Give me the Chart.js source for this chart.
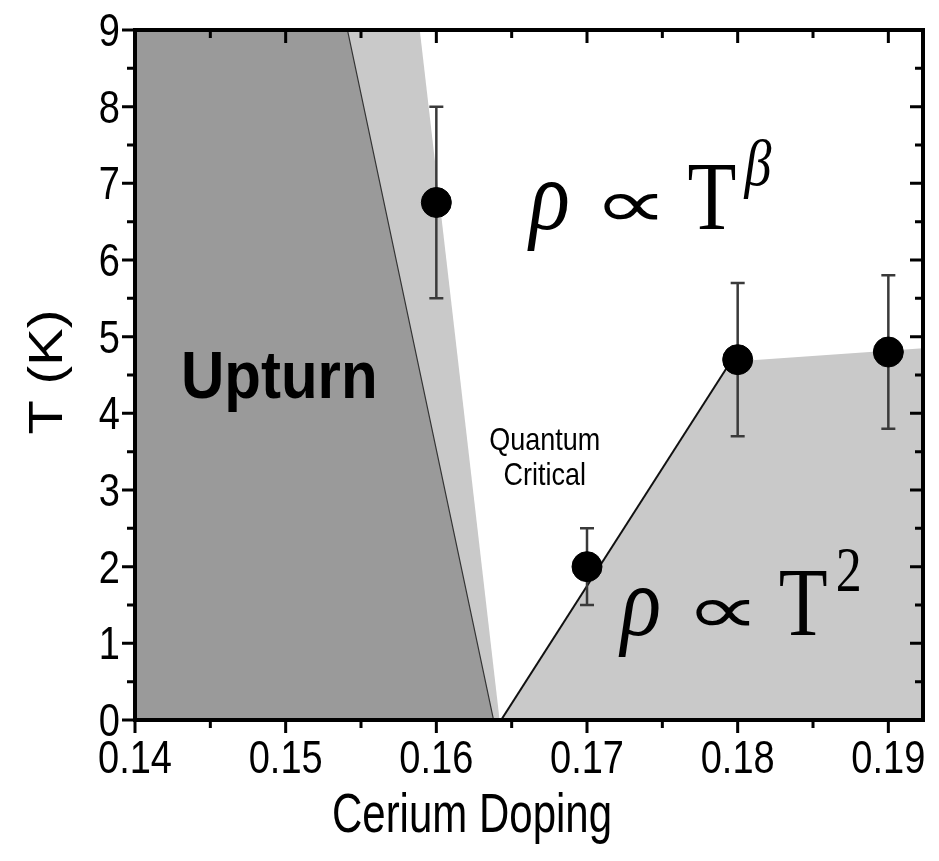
<!DOCTYPE html>
<html>
<head>
<meta charset="utf-8">
<script src="https://cdn.jsdelivr.net/npm/chart.js@4/dist/chart.umd.min.js"></script>
<style>
  html, body { margin: 0; padding: 0; background: #fff; }
  #wrap { width: 939px; height: 861px; }
</style>
</head>
<body>
<div id="wrap"><canvas id="phase" width="939" height="861"></canvas></div>
<script>
// ===== DATA =====
// cerium doping of the measured crossover points
const doping = [0.16, 0.17, 0.18, 0.19];
// crossover temperature (K) and error bar ends
const tCross = [6.75, 2.0, 4.7, 4.8];
const tLow = [5.5, 1.5, 3.7, 3.8];
const tHigh = [8.0, 2.5, 5.7, 5.8];

// region boundaries (doping, T)
const upturnX = [0.14, 0.1541, 0.1638];
const upturnT = [9, 9, 0];
const fringeX = [0.1541, 0.1589, 0.1642];
const fringeT = [9, 9, 0];
const fermiX = [0.1643, 0.1793, 0.18, 0.1923];
const fermiT = [0, 4.6, 4.68, 4.85];

const xTicks = ['0.14', '0.15', '0.16', '0.17', '0.18', '0.19'];
const yTicks = ['0', '1', '2', '3', '4', '5', '6', '7', '8', '9'];

const pts = (xs, ys) => xs.map((x, i) => ({ x: x, y: ys[i] }));

const SANS = "'Liberation Sans', Arial, sans-serif";
const SERIF = "'Liberation Serif', 'Times New Roman', serif";
const STRETCH = 1.22; // the source figure's text is drawn a bit tall

// text scaled (kx, ky) with its baseline at (x, y)
function tallText(c, s, x, y, ky, kx) {
  c.save();
  c.translate(x, y);
  c.scale(kx || 1, ky || STRETCH);
  c.fillText(s, 0, 0);
  c.restore();
}

// ticks on all four sides, frame, labels, error bars
const decor = {
  id: 'decor',
  beforeDraw(chart) {
    const c = chart.ctx;
    c.save();
    c.fillStyle = '#fff';
    c.fillRect(0, 0, chart.width, chart.height);
    c.restore();
  },
  beforeDatasetDraw(chart, args) {
    if (args.index !== 4) return;
    const c = chart.ctx, xs = chart.scales.x, ys = chart.scales.y;
    c.save();
    c.strokeStyle = '#3a3a3a';
    c.lineWidth = 2.5;
    doping.forEach((d, i) => {
      const px = xs.getPixelForValue(d);
      const lo = ys.getPixelForValue(tLow[i]);
      const hi = ys.getPixelForValue(tHigh[i]);
      c.beginPath();
      c.moveTo(px, lo); c.lineTo(px, hi);
      c.moveTo(px - 7, lo); c.lineTo(px + 7, lo);
      c.moveTo(px - 7, hi); c.lineTo(px + 7, hi);
      c.stroke();
    });
    c.restore();
  },
  afterDatasetsDraw(chart) {
    const c = chart.ctx, a = chart.chartArea;
    const xs = chart.scales.x, ys = chart.scales.y;
    c.save();
    c.strokeStyle = '#000';
    c.fillStyle = '#000';
    c.lineWidth = 3;
    c.font = '38px ' + SANS;
    c.textBaseline = 'alphabetic';
    xs.ticks.forEach((t, i) => {
      const px = xs.getPixelForValue(t.value);
      const major = i % 2 === 0;
      const len = major ? 13 : 8;
      c.beginPath();
      c.moveTo(px, a.bottom); c.lineTo(px, a.bottom + len);
      c.moveTo(px, a.top); c.lineTo(px, a.top + len);
      c.stroke();
      if (major) {
        c.textAlign = 'center';
        tallText(c, xTicks[i / 2], px, a.bottom + 53);
      }
    });
    ys.ticks.forEach((t, i) => {
      const py = ys.getPixelForValue(t.value);
      const major = i % 2 === 0;
      const len = major ? 13 : 8;
      c.beginPath();
      c.moveTo(a.left, py); c.lineTo(a.left - len, py);
      c.moveTo(a.right, py); c.lineTo(a.right - len, py);
      c.stroke();
      if (major) {
        c.textAlign = 'right';
        tallText(c, yTicks[i / 2], a.left - 15, py + 16);
      }
    });
    c.lineWidth = 4;
    c.strokeRect(a.left, a.top, a.right - a.left, a.bottom - a.top);

    // axis titles
    c.textAlign = 'center';
    c.font = '42px ' + SANS;
    tallText(c, 'Cerium Doping', (a.left + a.right) / 2 - 57, 832, 1.3);
    c.save();
    c.font = '48px ' + SANS;
    c.translate(62, 372);
    c.scale(1, 1.17);
    c.rotate(-Math.PI / 2);
    c.fillText('T (K)', 0, 0);
    c.restore();

    // region labels
    c.textAlign = 'left';
    c.font = 'bold 60px ' + SANS;
    tallText(c, 'Upturn', xs.getPixelForValue(0.14305), ys.getPixelForValue(4.2), 1.12);
    c.textAlign = 'center';
    c.font = '27px ' + SANS;
    tallText(c, 'Quantum', xs.getPixelForValue(0.1672), ys.getPixelForValue(3.52), 1.15);
    tallText(c, 'Critical', xs.getPixelForValue(0.1672), ys.getPixelForValue(3.06), 1.15);

    const law = (x, y, sup, supFont) => {
      c.textAlign = 'left';
      const px = xs.getPixelForValue(x);
      const py = ys.getPixelForValue(y);
      c.font = 'italic 84px ' + SERIF;
      tallText(c, '\u03C1', px, py);
      c.font = '80px ' + SERIF;
      tallText(c, '\u221D', px + 64, py - 2, 0.85, 1.32);
      tallText(c, 'T', px + 158, py);
      c.font = supFont;
      tallText(c, sup, px + 215, py - 44);
    };
    law(0.16618, 6.41, '\u03B2', 'italic 54px ' + SERIF);
    law(0.17224, 1.11, '2', '52px ' + SERIF);
    c.restore();
  }
};

new Chart(document.getElementById('phase'), {
  type: 'scatter',
  data: {
    datasets: [{
      label: 'Fermi liquid edge',
      data: pts(fermiX.slice(0, 2), fermiT.slice(0, 2)),
      showLine: true,
      fill: false,
      borderWidth: 2,
      borderColor: '#111',
      pointRadius: 0,
      order: 2
    }, {
      label: 'Fermi liquid',
      data: pts(fermiX, fermiT),
      showLine: true,
      fill: 'origin',
      backgroundColor: '#c9c9c9',
      borderWidth: 0,
      borderColor: 'rgba(0,0,0,0)',
      pointRadius: 0,
      order: 3
    }, {
      label: 'Fringe',
      data: pts(fringeX, fringeT),
      showLine: true,
      fill: 'origin',
      backgroundColor: '#c9c9c9',
      borderWidth: 0,
      borderColor: 'rgba(0,0,0,0)',
      pointRadius: 0,
      order: 5
    }, {
      label: 'Upturn',
      data: pts(upturnX, upturnT),
      showLine: true,
      fill: 'origin',
      backgroundColor: '#9a9a9a',
      borderWidth: 1.2,
      borderColor: '#333',
      pointRadius: 0,
      order: 4
    }, {
      label: 'Crossover',
      data: pts(doping, tCross),
      showLine: false,
      pointRadius: 15,
      pointBackgroundColor: '#000',
      pointBorderColor: '#000',
      order: 1
    }]
  },
  options: {
    responsive: false,
    animation: false,
    devicePixelRatio: 1,
    layout: { padding: { top: 30, right: 9, left: 0, bottom: 0 } },
    plugins: { legend: { display: false }, tooltip: { enabled: false } },
    scales: {
      x: {
        type: 'linear',
        min: 0.14,
        max: 0.1923,
        grid: { display: false },
        border: { display: false },
        ticks: { display: false },
        afterFit: s => { s.height = 141; },
        afterBuildTicks: s => {
          const t = [];
          for (let i = 0; i <= 10; i++) t.push({ value: 0.14 + i * 0.005 });
          s.ticks = t;
        }
      },
      y: {
        min: 0,
        max: 9,
        grid: { display: false },
        border: { display: false },
        ticks: { display: false },
        afterFit: s => { s.width = 135; },
        afterBuildTicks: s => {
          const t = [];
          for (let i = 0; i <= 18; i++) t.push({ value: i * 0.5 });
          s.ticks = t;
        }
      }
    }
  },
  plugins: [decor]
});
</script>
</body>
</html>
